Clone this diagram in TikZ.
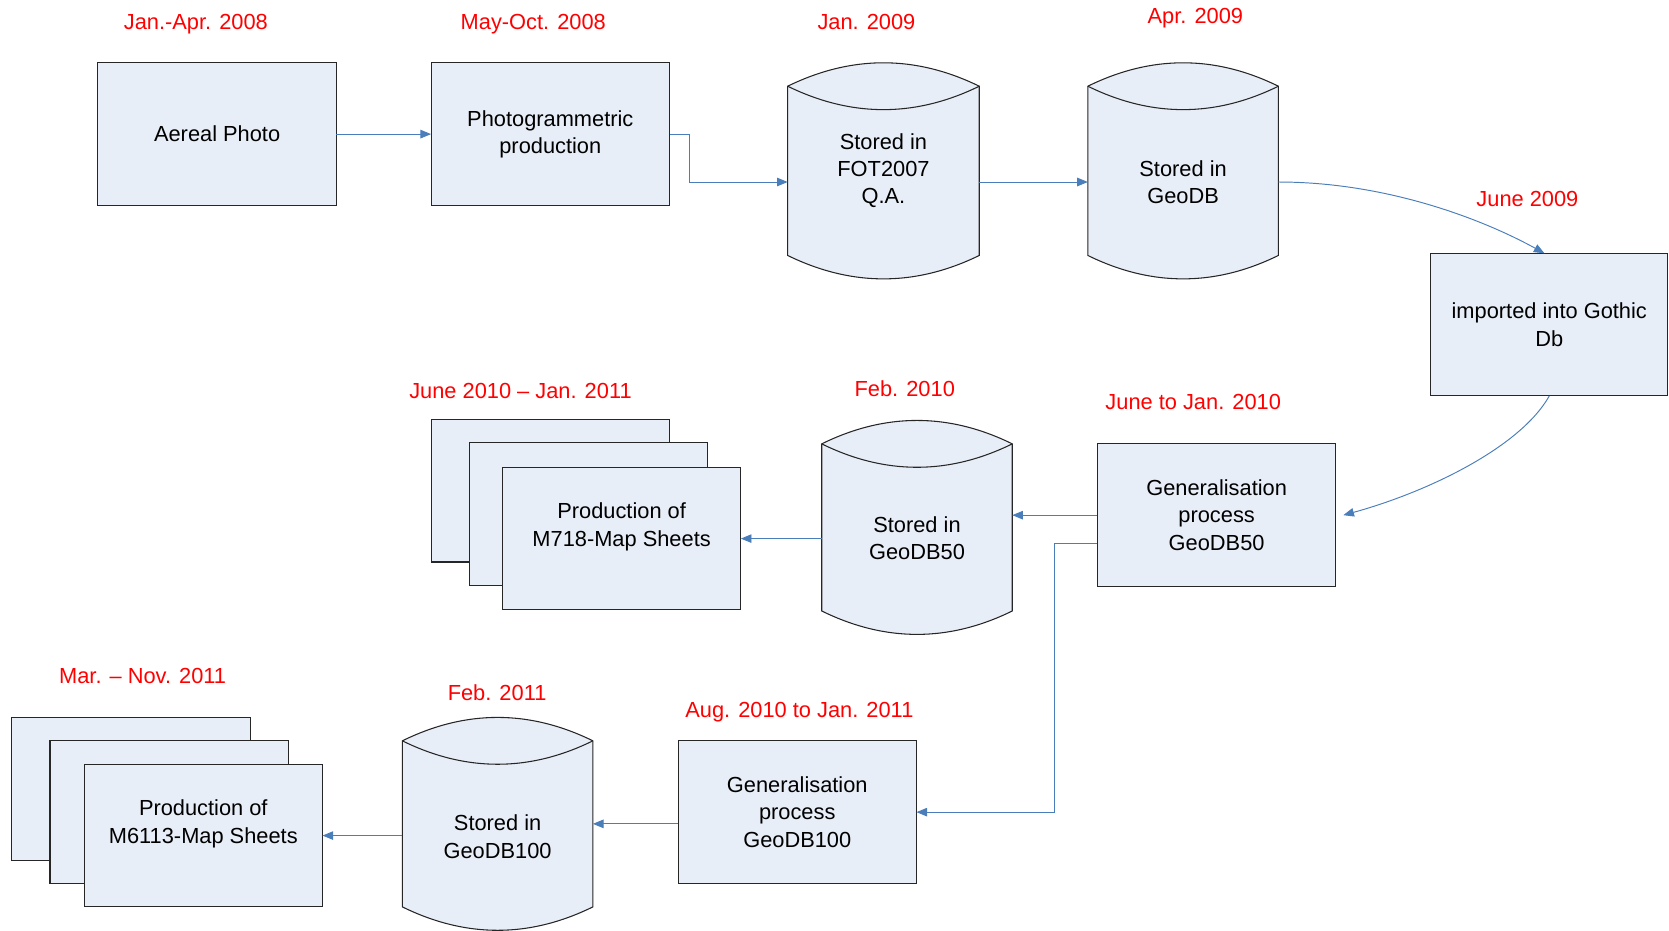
\documentclass[tikz,border=0pt]{standalone}
\usepackage{fontspec}
\setmainfont{Liberation Sans}
\usetikzlibrary{arrows.meta}
\definecolor{boxfill}{RGB}{232,238,247}
\definecolor{arrblue}{RGB}{74,126,187}
\definecolor{datered}{RGB}{255,0,0}
\newcommand\DBshape[4]{%
  \path[shapeline,fill=boxfill] ({#1},{#3+22}) .. controls ({#1+(#2-#1)/3},{#3+22-29.33}) and ({#2-(#2-#1)/3},{#3+22-29.33}) .. ({#2},{#3+22})
    -- ({#2},{#4}) .. controls ({#2-(#2-#1)/3},{#4+29.33}) and ({#1+(#2-#1)/3},{#4+29.33}) .. ({#1},{#4}) -- cycle;
  \draw[shapeline] ({#1},{#3+22}) .. controls ({#1+(#2-#1)/3},{#3+22+29.33}) and ({#2-(#2-#1)/3},{#3+22+29.33}) .. ({#2},{#3+22});
}
\begin{document}
\begin{tikzpicture}[x=1pt,y=-1pt,
  shapeline/.style={draw=black!85,line width=1pt},
  txt/.style={align=center,font=\fontsize{20.5}{25.5}\selectfont,inner sep=0pt},
  box/.style={shapeline,fill=boxfill,minimum width=224pt,minimum height=134pt,inner sep=0pt,outer sep=0pt,align=center,font=\fontsize{20.5}{25.5}\selectfont},
  hull/.style={inner sep=0pt,outer sep=0pt,draw=none},
  lab/.style={text=datered,font=\fontsize{20.5}{25}\selectfont,inner sep=0pt},
  arr/.style={draw=arrblue,line width=0.9pt,-{Triangle[length=10pt,width=8pt]}}]
\useasboundingbox (0,0) rectangle (1568,874);

% dates
\node[lab] (l1) at (184,23) {Jan.-Apr. 2008};
\node[lab] (l2) at (501,23) {May-Oct. 2008};
\node[lab] (l3) at (814,21) {Jan. 2009};
\node[lab] (l4) at (1123,17) {Apr. 2009};
\node[lab] (l5) at (1435,187) {June 2009};
\node[lab] (l6) at (1121,378) {June to Jan. 2010};
\node[lab] (l7) at (850,365) {Feb. 2010};
\node[lab] (l8) at (489,367) {June 2010 -- Jan. 2011};
\node[lab] (l9) at (751,669) {Aug. 2010 to Jan. 2011};
\node[lab] (l10) at (467,651) {Feb. 2011};
\node[lab] (l11) at (134,635) {Mar. -- Nov. 2011};

% row 1
\node[box] (A) at (204,126) {Aereal Photo};
\node[box] (B) at (517,126) {Photogrammetric\\production};
\DBshape{740}{920}{59}{240}
\node[hull,minimum width=180pt,minimum height=202pt] (c1) at (830,160) {};
\node[txt] (c1t) at (830,160.5) {Stored in\\FOT2007\\Q.A.};
\DBshape{1022}{1201}{59}{240}
\node[hull,minimum width=179pt,minimum height=202pt] (c2) at (1111.5,160) {};
\node[txt] (c2t) at (1111.5,171) {Stored in\\GeoDB};
\node[box,minimum width=223pt] (G) at (1455.5,305) {imported into Gothic\\Db};

% row 2
\node[box] (G50) at (1143,484) {Generalisation\\process\\GeoDB50};
\DBshape{772}{951}{395}{574}
\node[hull,minimum width=179pt,minimum height=201pt] (c3) at (861.5,495.5) {};
\node[txt] (c3t) at (861.5,506) {Stored in\\GeoDB50};
\node[box] (S1a) at (517,461) {};
\node[box] (S1b) at (553,483) {};
\node[box] (S1) at (584,506) {};
\node[txt] (S1t) at (584,495) {Production of\\M718-Map Sheets};

% row 3
\node[box] (G100) at (749,763) {Generalisation\\process\\GeoDB100};
\DBshape{378}{557}{674}{852}
\node[hull,minimum width=179pt,minimum height=200pt] (c4) at (467.5,774) {};
\node[txt] (c4t) at (467.5,786) {Stored in\\GeoDB100};
\node[box] (S2a) at (123,741) {};
\node[box] (S2b) at (159,763) {};
\node[box] (S2) at (191,785) {};
\node[txt] (S2t) at (191,774) {Production of\\M6113-Map Sheets};

% connectors
\draw[arr] (A) -- (B);
\draw[arr] (B.east) -- ++(19,0) |- ([yshift=-11pt]c1.west);
\draw[arr] ([yshift=-11pt]c1.east) -- ([yshift=-11pt]c2.west);
\draw[arr] ([yshift=-11pt]c2.east) .. controls +(100,0) and +(-60,-33) .. ([xshift=-4.5pt]G.north);
\draw[arr] (G.south) .. controls +(-27,48) and +(80,-22) .. ([xshift=7pt]G50.east);
\draw[arr] (G50.west) -- (G50.west -| c3.east);
\draw[arr] (S1.east -| c3.west) -- (S1.east);
\draw[arr] ([yshift=-27pt]G50.west) -- ++(-40,0) |- (G100.east);
\draw[arr] (c4.east -| G100.west) -- (c4.east);
\draw[arr] (S2.east -| c4.west) -- (S2.east);
\end{tikzpicture}
\end{document}
